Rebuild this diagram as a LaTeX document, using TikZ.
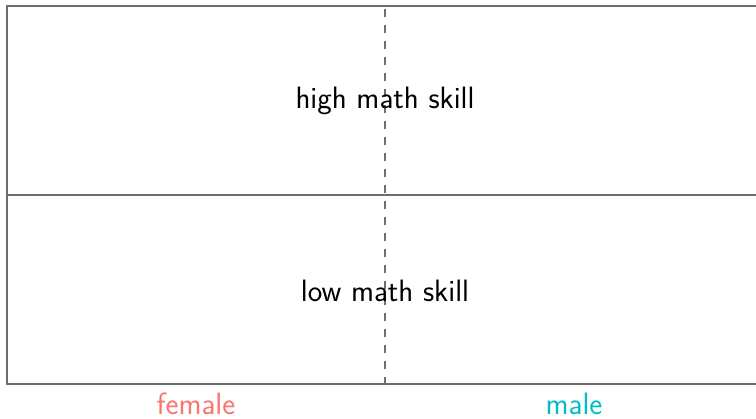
\documentclass[tikz,border=0pt]{standalone}
\usepackage{tikz}
\definecolor{fem}{HTML}{F8766D}
\definecolor{mal}{HTML}{00BFC4}
\definecolor{frame}{HTML}{6E6E6E}
\tikzset{
  frameline/.style={draw=frame, line width=1.4bp},
  divider/.style={draw=frame, line width=1.3bp, dash pattern=on 8bp off 8bp, dash phase=13bp},
  lbl/.style={font=\sffamily\fontsize{31}{36}\selectfont, inner sep=0pt, anchor=base},
}
\begin{document}
\begin{tikzpicture}[x=1bp,y=-1bp]
\useasboundingbox (0,0) rectangle (756,418);
\fill[white] (0,0) rectangle (756,418);
\coordinate (tl) at (7,6);
\coordinate (tr) at (757,6);
\coordinate (ml) at (7,195);
\coordinate (mr) at (757,195);
\coordinate (bl) at (7,384);
\coordinate (br) at (757,384);
\coordinate (dt) at (385,6);
\coordinate (db) at (385,384);
\draw[frameline] (tr) -- (tl) -- (bl) -- (br);
\draw[frameline] (ml) -- (mr);
\draw[divider] (dt) -- (db);
\node[lbl] (high) at (385,108) {high math skill};
\node[lbl] (low) at (385,301) {low math skill};
\node[lbl, text=fem] (female) at (196,414) {female};
\node[lbl, text=mal] (male) at (574,414) {male};
\end{tikzpicture}
\end{document}
